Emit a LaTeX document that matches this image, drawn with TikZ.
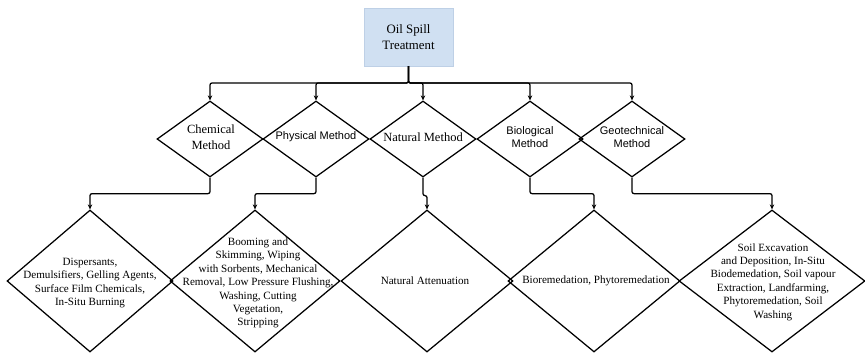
\documentclass[tikz,border=0pt]{standalone}
\usepackage{fontspec}
\setmainfont{Liberation Serif}
\newfontfamily\sansf{Liberation Sans}
\usetikzlibrary{shapes.geometric,arrows.meta}
\definecolor{boxblue}{RGB}{208,224,242}
\definecolor{boxedge}{RGB}{190,208,230}
\begin{document}
\begin{tikzpicture}[x=1pt,y=-1pt,
 dia/.style={diamond,draw=black,line width=1.25pt,inner sep=0pt},
 updia/.style={dia,minimum width=106pt,minimum height=76pt},
 lowdia/.style={dia,minimum height=142pt},
 conn/.style={line width=1.25pt,-{Stealth[length=5pt,width=4.5pt]},rounded corners=2pt},
 toptxt/.style={align=center,font=\fontsize{12.8}{16}\selectfont},
 uptxt/.style={align=center,font=\fontsize{12.5}{15.5}\selectfont},
 upsans/.style={align=center,font=\sansf\fontsize{11}{13.5}\selectfont},
 lowtxt/.style={align=center,font=\fontsize{11.1}{13.4}\selectfont}]
\useasboundingbox (0,0) rectangle (865,353);
\node[fill=boxblue,draw=boxedge,line width=0.4pt,minimum width=89pt,minimum height=58pt,toptxt] (top) at (408.5,37) {Oil Spill\\Treatment};

\node[updia] (d1) at (210,139) {};
\node[updia] (d2) at (316,139) {};
\node[updia] (d3) at (423,139) {};
\node[updia] (d4) at (530,139) {};
\node[updia] (d5) at (632,139) {};

\node[uptxt] (u1) at (211,137) {Chemical\\Method};
\node[upsans] (u2) at (316,137) {Physical Method};
\node[uptxt] (u3) at (423,137) {Natural Method};
\node[upsans] (u4) at (530,137) {Biological\\Method};
\node[upsans] (u5) at (632,137) {Geotechnical\\Method};

\node[lowdia,minimum width=166pt] (l1) at (90,281) {};
\node[lowdia,minimum width=170pt] (l2) at (255,281) {};
\node[lowdia,minimum width=172pt] (l3) at (427,281) {};
\node[lowdia,minimum width=172pt] (l4) at (594,281) {};
\node[lowdia,minimum width=186pt] (l5) at (772,281) {};

\node[lowtxt] (t1) at (90,283) {Dispersants,\\Demulsifiers, Gelling Agents,\\Surface Film Chemicals,\\In-Situ Burning};
\node[lowtxt] (t2) at (258,283) {Booming and\\Skimming, Wiping\\with Sorbents, Mechanical\\Removal, Low Pressure Flushing,\\Washing, Cutting\\Vegetation,\\Stripping};
\node[lowtxt] (t3) at (425,281) {Natural Attenuation};
\node[lowtxt] (t4) at (596,281) {Bioremedation, Phytoremedation};
\node[lowtxt] (t5) at (773,282) {Soil Excavation\\and Deposition, In-Situ\\Biodemedation, Soil vapour\\Extraction, Landfarming,\\Phytoremedation, Soil\\Washing};

\coordinate (bus) at (408.5,83);
\foreach \d in {d1,d2,d3,d4,d5}{
  \draw[conn] (top.south) -- (bus) -| (\d.north);
}
\draw[conn] (d1.south) -- ++(0,16) -| (l1.north);
\draw[conn] (d2.south) -- ++(0,16) -| (l2.north);
\draw[conn] (d3.south) -- ++(0,18) -| (l3.north);
\draw[conn] (d4.south) -- ++(0,16) -| (l4.north);
\draw[conn] (d5.south) -- ++(0,16) -| (l5.north);
\end{tikzpicture}
\end{document}
